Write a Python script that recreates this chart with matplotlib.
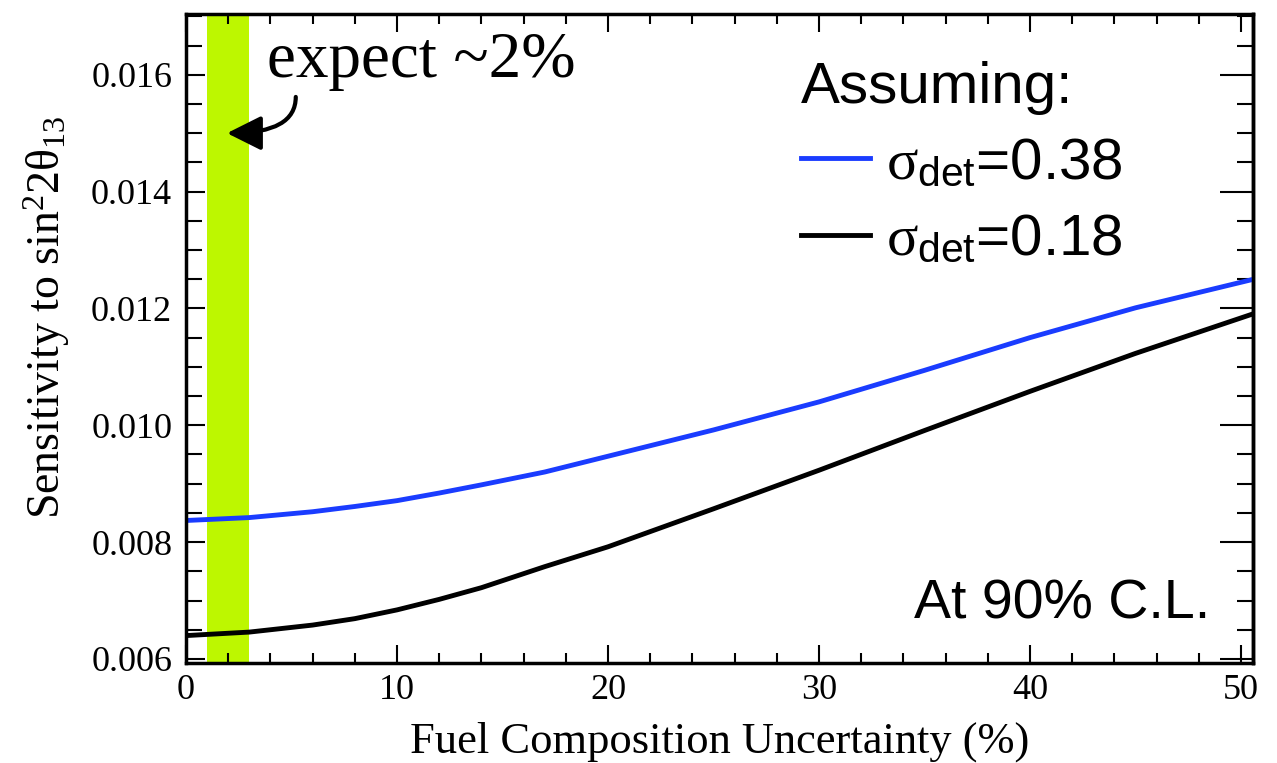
import matplotlib
matplotlib.use('Agg')
import matplotlib.pyplot as plt
from matplotlib.ticker import MultipleLocator, FormatStrFormatter

# sensitivity vs. fuel composition uncertainty, two detector systematics
fuel_unc = [0, 3, 6, 8, 10, 12, 14, 17, 20, 25, 30, 35, 40, 45, 50.6]
sens_det038 = [0.00837, 0.00842, 0.00852, 0.00861, 0.00871, 0.00884, 0.00898,
               0.00920, 0.00947, 0.00992, 0.01040, 0.01094, 0.01150, 0.01201,
               0.01250]
sens_det018 = [0.00640, 0.00646, 0.00658, 0.00669, 0.00684, 0.00702, 0.00722,
               0.00758, 0.00792, 0.00857, 0.00923, 0.00991, 0.01058, 0.01123,
               0.01191]
labels = [r'$\sigma_{\mathsf{det}}$=0.38', r'$\sigma_{\mathsf{det}}$=0.18']
expected = (1, 3)

plt.rcParams['mathtext.fontset'] = 'custom'
plt.rcParams['mathtext.rm'] = 'Liberation Serif'
plt.rcParams['mathtext.it'] = 'Liberation Serif'
plt.rcParams['mathtext.sf'] = 'Liberation Sans'
plt.rcParams['font.family'] = 'Liberation Serif'

fig = plt.figure(figsize=(12.77, 7.63), dpi=100)
ax = fig.add_axes([0.1457, 0.131, 0.8355, 0.8507])

ax.axvspan(*expected, color='#bdf700', lw=0, zorder=0)
l1, = ax.plot(fuel_unc, sens_det038, color='#1a3cff', lw=3.5)
l2, = ax.plot(fuel_unc, sens_det018, color='black', lw=3.5)

ax.set_xlim(0, 50.57)
ax.set_ylim(0.00593, 0.01704)
ax.xaxis.set_major_locator(MultipleLocator(10))
ax.xaxis.set_minor_locator(MultipleLocator(2))
ax.yaxis.set_major_locator(MultipleLocator(0.002))
ax.yaxis.set_minor_locator(MultipleLocator(0.0005))
ax.yaxis.set_major_formatter(FormatStrFormatter('%.3f'))

ax.tick_params(which='both', direction='in', top=True, right=False, width=1.5, labelsize=26)
ax.tick_params(axis='x', which='major', length=13, pad=8)
ax.tick_params(axis='x', which='minor', length=7)
ax.tick_params(axis='y', which='major', length=14, pad=10)
ax.tick_params(axis='y', which='minor', length=11.5)

# right side ticks are longer
sec = ax.secondary_yaxis('right')
sec.yaxis.set_major_locator(MultipleLocator(0.002))
sec.yaxis.set_minor_locator(MultipleLocator(0.0005))
sec.tick_params(which='both', direction='in', width=1.5, labelright=False)
sec.tick_params(which='major', length=24)
sec.tick_params(which='minor', length=11.5)
sec.spines['right'].set_linewidth(2.5)

for s in ax.spines.values():
    s.set_linewidth(2.5)

ax.set_xlabel('Fuel Composition Uncertainty (%)', fontsize=32)
ax.set_ylabel(r'Sensitivity to sin$^{2}$2$\theta_{13}$', fontsize=33)
ax.yaxis.set_label_coords(-0.107, 0.533)
ax.xaxis.set_label_coords(0.5, -0.09)

leg = ax.legend([l1, l2], labels, title='Assuming:', loc='upper left',
                bbox_to_anchor=(0.5764, 0.928), frameon=False, alignment='left',
                prop={'family': 'Liberation Sans', 'size': 42},
                title_fontproperties={'family': 'Liberation Sans', 'size': 42},
                handlelength=1.18, handletextpad=0.28, labelspacing=0.38,
                borderpad=0, borderaxespad=0)

ax.text(0.960, 0.069, 'At 90% C.L.', transform=ax.transAxes, ha='right',
        va='baseline', fontsize=40, family='Liberation Sans')

ax.text(0.076, 0.903, 'expect ~2%', transform=ax.transAxes, ha='left',
        va='baseline', fontsize=47, family='Liberation Serif')
ax.annotate('', xy=(1.94, 0.01500), xytext=(5.2, 0.01562),
            arrowprops=dict(arrowstyle='-|>,head_length=0.6,head_width=0.3',
                            lw=3, color='black', mutation_scale=35,
                            shrinkA=0, shrinkB=0,
                            connectionstyle='angle3,angleA=90,angleB=0'))

fig.savefig('out.png', dpi=100)
